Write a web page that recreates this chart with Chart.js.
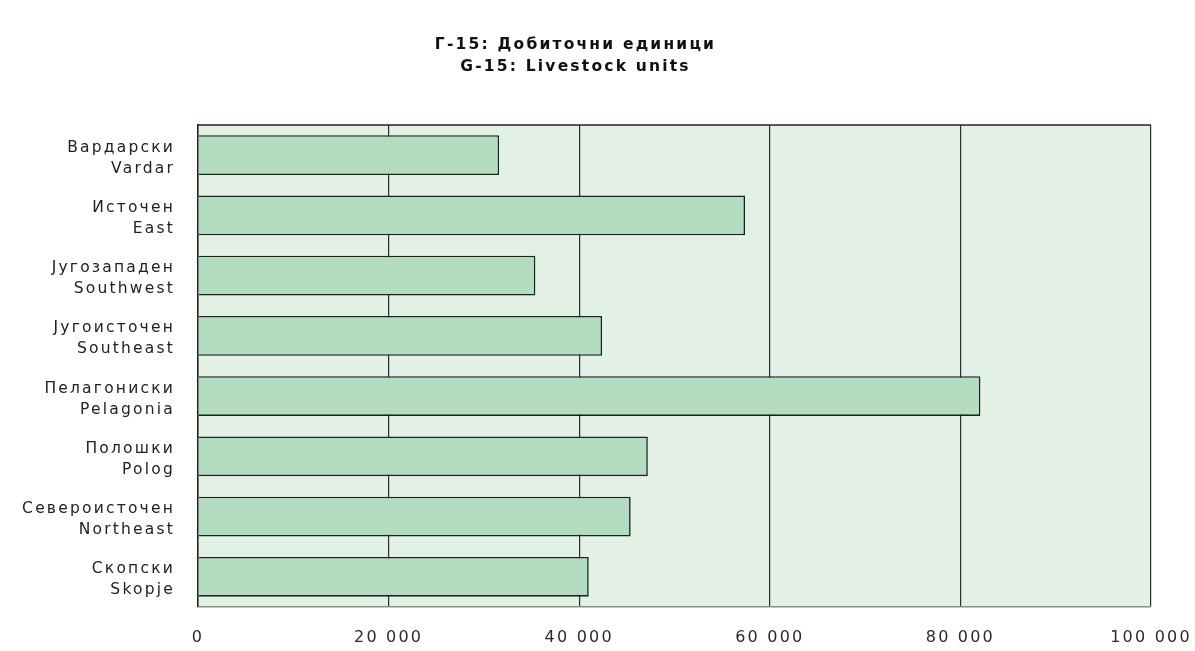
<!DOCTYPE html>
<html>
<head>
<meta charset="utf-8">
<script src="https://cdn.jsdelivr.net/npm/chart.js@4.4.1/dist/chart.umd.min.js"></script>
<style>
  html, body { margin: 0; padding: 0; background: #ffffff; }
  #wrap { width: 1195px; height: 651px; position: relative; }
</style>
</head>
<body>
<div id="wrap"><canvas id="chart" width="1195" height="651"></canvas></div>
<script>
// Regions (Macedonian / English) and livestock units per region
const regionsMk = ['Вардарски', 'Источен', 'Југозападен', 'Југоисточен', 'Пелагониски', 'Полошки', 'Североисточен', 'Скопски'];
const regionsEn = ['Vardar', 'East', 'Southwest', 'Southeast', 'Pelagonia', 'Polog', 'Northeast', 'Skopje'];
const livestockUnits = [31600, 57400, 35400, 42400, 82100, 47200, 45400, 41000];
const xTicks = [0, 20000, 40000, 60000, 80000, 100000];
const titleLines = ['Г-15: Добиточни единици', 'G-15: Livestock units'];

const labels = regionsMk.map((mk, i) => [mk, regionsEn[i]]);

// Slightly spaced lettering for all chart text
const spacing = {
  id: 'spacing',
  beforeUpdate(chart) { chart.ctx.letterSpacing = '2.2px'; },
  beforeDraw(chart) { chart.ctx.letterSpacing = '2.2px'; }
};

// Light green plot background with a dark frame line along the top
const plotFrame = {
  id: 'plotFrame',
  beforeDraw(chart) {
    const { ctx, chartArea: a } = chart;
    ctx.save();
    ctx.fillStyle = '#e3f0e6';
    ctx.fillRect(a.left, a.top, a.right - a.left, a.bottom - a.top);
    ctx.restore();
  },
  afterDraw(chart) {
    const { ctx, chartArea: a } = chart;
    ctx.save();
    ctx.strokeStyle = '#1e2420';
    ctx.lineWidth = 1.5;
    ctx.beginPath();
    ctx.moveTo(a.left, a.top);
    ctx.lineTo(a.right, a.top);
    ctx.stroke();
    ctx.restore();
  }
};

const fmt = v => String(v).replace(/\B(?=(\d{3})+(?!\d))/g, ' ');

new Chart(document.getElementById('chart'), {
  type: 'bar',
  data: {
    labels: labels,
    datasets: [{
      data: livestockUnits,
      backgroundColor: '#b3dcc1',
      borderColor: '#18241c',
      borderWidth: 1.6,
      borderSkipped: 'start',
      categoryPercentage: 1.0,
      barPercentage: 0.66
    }]
  },
  options: {
    indexAxis: 'y',
    responsive: false,
    animation: false,
    devicePixelRatio: 1,
    layout: { padding: { left: 0, right: 44, top: 0, bottom: 0 } },
    plugins: {
      legend: { display: false },
      tooltip: { enabled: false },
      title: {
        display: true,
        text: titleLines,
        color: '#111111',
        font: { family: 'DejaVu Sans', size: 15.5, weight: 'bold', lineHeight: 1.42 },
        padding: { top: 34, bottom: 47 }
      }
    },
    scales: {
      x: {
        type: 'linear',
        min: 0,
        max: 100000,
        afterBuildTicks(scale) { scale.ticks = xTicks.map(v => ({ value: v })); },
        afterFit(scale) {
          scale.height = 41;
          scale.paddingLeft = 0;
          scale.paddingRight = 0;
        },
        grid: { color: '#2a2e2b', lineWidth: 1.2, drawTicks: false },
        border: { color: '#8a8f8b', width: 1.5 },
        ticks: {
          callback: v => fmt(v),
          color: '#2a2a2a',
          padding: 21,
          maxRotation: 0,
          font: { family: 'DejaVu Sans', size: 16 }
        }
      },
      y: {
        afterFit(scale) { scale.width = 198; },
        grid: { display: false, drawTicks: false },
        border: { color: '#1e2420', width: 1.5 },
        ticks: {
          color: '#222222',
          padding: 23,
          labelOffset: 3,
          font: { family: 'DejaVu Sans', size: 15.5, lineHeight: 1.36 }
        }
      }
    }
  },
  plugins: [spacing, plotFrame]
});
</script>
</body>
</html>
